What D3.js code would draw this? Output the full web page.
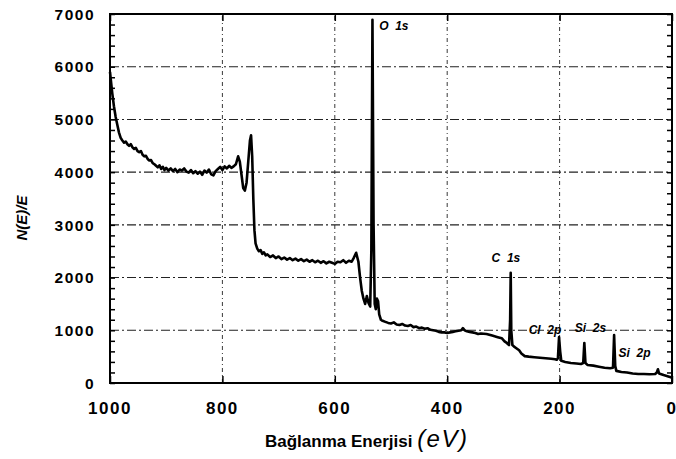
<!DOCTYPE html>
<html>
<head>
<meta charset="utf-8">
<script src="https://cdn.jsdelivr.net/npm/d3@7"></script>
<style>
  body { margin: 0; background: #fff; }
  svg { display: block; font-family: "Liberation Sans", Arial, sans-serif; }
</style>
</head>
<body>
<div id="chart"></div>
<script>
// spectrum: binding energy (eV) and N(E)/E
var energy = [1000, 998, 996, 993, 990, 987, 984, 981, 978, 975, 972, 969, 966, 963, 960, 957, 954, 951, 948, 945,
  942, 939, 936, 933, 930, 927, 924, 921, 918, 915, 912, 909, 906, 903, 900, 896, 892, 888, 884, 880,
  876, 872, 868, 864, 860, 856, 852, 848, 844, 840, 836, 832, 828, 824, 820, 816, 812, 808, 804, 800,
  796, 792, 788, 784, 780, 776, 772, 769, 766, 763, 760, 757, 754, 751, 749, 747, 745, 743, 741, 738,
  735, 732, 729, 726, 723, 720, 715, 710, 705, 700, 695, 690, 685, 680, 675, 670, 665, 660, 655, 650,
  645, 640, 635, 630, 625, 620, 615, 610, 605, 600, 595, 590, 585, 580, 575, 570, 566, 562, 558, 555,
  552, 549, 546, 543, 540, 537, 535, 533, 531, 529, 527, 525, 523, 521, 518, 515, 510, 505, 500, 495,
  490, 485, 480, 475, 470, 465, 460, 455, 450, 445, 440, 435, 430, 425, 420, 415, 410, 405, 400, 395,
  390, 385, 380, 375, 372, 369, 365, 360, 355, 350, 345, 340, 330, 320, 310, 303, 298, 294, 290, 288,
  287, 286, 284, 281, 277, 272, 268, 262, 255, 245, 235, 225, 215, 208, 205, 203, 201, 199, 197, 190,
  180, 170, 162, 158, 156, 154, 150, 140, 130, 120, 110, 105, 103, 101, 99, 90, 80, 70, 60, 50,
  40, 30, 27, 25, 23, 15, 8, 2, 0];
var counts = [5900, 5700, 5500, 5250, 5050, 4900, 4750, 4650, 4600, 4560, 4580, 4530, 4500, 4530, 4470, 4440, 4460, 4400, 4380, 4400,
  4330, 4300, 4310, 4250, 4220, 4230, 4170, 4150, 4120, 4090, 4130, 4060, 4100, 4040, 4080, 4030, 4070, 4020, 4060, 4000,
  4050, 4030, 4070, 4010, 3990, 4040, 3980, 4020, 3970, 4010, 3950, 4030, 3990, 4050, 3960, 3940, 4020, 4060, 4100, 4040,
  4110, 4070, 4120, 4080, 4110, 4150, 4300, 4200, 3950, 3700, 3650, 3800, 4200, 4600, 4700, 4300, 3500, 2900, 2650, 2550,
  2500, 2520, 2450, 2480, 2420, 2440, 2390, 2420, 2370, 2400, 2350, 2380, 2340, 2370, 2330, 2360, 2320, 2350, 2310, 2340,
  2300, 2330, 2290, 2320, 2280, 2310, 2270, 2300, 2280, 2260, 2300, 2290, 2330, 2280, 2320, 2300, 2380, 2470, 2300, 2000,
  1750, 1600, 1500, 1650, 1520, 1450, 2500, 6890, 3000, 1500, 1400, 1600, 1550, 1300, 1200, 1180, 1160, 1140, 1130, 1150,
  1110, 1100, 1120, 1090, 1080, 1100, 1060, 1070, 1040, 1050, 1030, 1040, 1010, 1000, 990, 970, 960, 960, 950, 960,
  970, 980, 990, 1000, 1040, 1000, 980, 970, 960, 950, 930, 940, 930, 900, 870, 850, 790, 760, 720, 1200,
  2090, 1000, 720, 690, 660, 620, 560, 510, 500, 490, 480, 470, 460, 450, 440, 470, 870, 600, 420, 400,
  380, 370, 360, 380, 760, 380, 340, 330, 310, 290, 280, 290, 910, 320, 230, 210, 200, 180, 170, 170,
  165, 170, 200, 260, 180, 150, 130, 110, 100];

var xTicks = [1000, 800, 600, 400, 200, 0];
var yTicks = [0, 1000, 2000, 3000, 4000, 5000, 6000, 7000];

var peakNames = ["O  1s", "C  1s", "Cl  2p", "Si  2s", "Si  2p"];
var peakLabelE = [521, 321, 255, 173, 95];
var peakLabelN = [6700, 2290, 930, 970, 490];

var width = 676, height = 459;
var margin = { top: 14, right: 4, bottom: 76, left: 110 };

var svg = d3.select('#chart').append('svg').attr('width', width).attr('height', height);

var x = d3.scaleLinear().domain([1000, 0]).range([margin.left, width - margin.right]);
var y = d3.scaleLinear().domain([0, 7000]).range([height - margin.bottom, margin.top]);

// dash-dot grid
var grid = svg.append('g').attr('stroke', '#222').attr('stroke-width', 1.1).attr('stroke-dasharray', '9,3,2,3');
grid.selectAll('line.gy').data(yTicks.slice(1, -1)).join('line').attr('class', 'gy')
  .attr('x1', x(1000)).attr('x2', x(0)).attr('y1', function (d) { return y(d); }).attr('y2', function (d) { return y(d); });
grid.selectAll('line.gx').data(xTicks.slice(1, -1)).join('line').attr('class', 'gx')
  .attr('stroke-width', 0.9).attr('stroke-dasharray', '4,3,1,3')
  .attr('y1', y(0)).attr('y2', y(7000)).attr('x1', function (d) { return x(d); }).attr('x2', function (d) { return x(d); });

// axes, ticks pointing inward
var minorY = d3.range(0, 7001, 200);
svg.append('g').attr('transform', 'translate(' + margin.left + ',0)')
  .call(d3.axisRight(y).tickValues(minorY).tickSize(5).tickFormat(''))
  .call(function (g) { g.select('.domain').remove(); g.selectAll('line').attr('stroke-width', 1.5); });
svg.append('g').attr('transform', 'translate(' + (width - margin.right) + ',0)')
  .call(d3.axisLeft(y).tickValues(minorY).tickSize(5).tickFormat(''))
  .call(function (g) { g.select('.domain').remove(); g.selectAll('line').attr('stroke-width', 1.5); });
svg.append('g').attr('transform', 'translate(0,' + y(0) + ')')
  .call(d3.axisTop(x).tickValues(xTicks).tickSize(7).tickFormat(''))
  .call(function (g) { g.select('.domain').remove(); g.selectAll('line').attr('stroke-width', 1.5); });
svg.append('g').attr('transform', 'translate(0,' + y(7000) + ')')
  .call(d3.axisBottom(x).tickValues(xTicks).tickSize(7).tickFormat(''))
  .call(function (g) { g.select('.domain').remove(); g.selectAll('line').attr('stroke-width', 1.5); });

// tick labels
svg.append('g').selectAll('text').data(yTicks).join('text')
  .attr('x', margin.left - 15).attr('y', function (d) { return y(d); })
  .attr('dy', '0.37em').attr('text-anchor', 'end')
  .attr('font-size', 15.5).attr('font-weight', 'bold').attr('letter-spacing', 1.5)
  .text(function (d) { return d; });
svg.append('g').selectAll('text').data(xTicks).join('text')
  .attr('x', function (d) { return x(d); }).attr('y', 414)
  .attr('text-anchor', 'middle')
  .attr('font-size', 17).attr('font-weight', 'bold').attr('letter-spacing', 1.5)
  .text(function (d) { return d; });

// frame
svg.append('rect').attr('x', x(1000)).attr('y', y(7000))
  .attr('width', x(0) - x(1000)).attr('height', y(0) - y(7000))
  .attr('fill', 'none').attr('stroke', '#000').attr('stroke-width', 2);

// spectrum
var line = d3.line()
  .x(function (d, i) { return x(energy[i]); })
  .y(function (d) { return y(d); });
svg.append('path').datum(counts).attr('d', line)
  .attr('fill', 'none').attr('stroke', '#000').attr('stroke-width', 2.6).attr('stroke-linejoin', 'round');

// peak labels
svg.append('g').selectAll('text').data(peakNames).join('text')
  .attr('x', function (d, i) { return x(peakLabelE[i]); })
  .attr('y', function (d, i) { return y(peakLabelN[i]); })
  .attr('font-size', 12).attr('font-weight', 'bold').attr('font-style', 'italic')
  .style('white-space', 'pre').attr('xml:space', 'preserve')
  .text(function (d) { return d; });

// axis titles
var xt = svg.append('text').attr('x', 265).attr('y', 447).attr('font-size', 17).attr('font-weight', 'bold');
xt.append('tspan').text('Bağlanma Enerjisi ');
xt.append('tspan').attr('font-size', 24).attr('font-weight', 'normal').attr('font-style', 'italic')
  .attr('letter-spacing', 1.5).text('(eV)');

svg.append('text').attr('transform', 'translate(27,218) rotate(-90)')
  .attr('text-anchor', 'middle').attr('font-size', 15).attr('font-weight', 'bold').attr('font-style', 'italic')
  .text('N(E)/E');
</script>
</body>
</html>
